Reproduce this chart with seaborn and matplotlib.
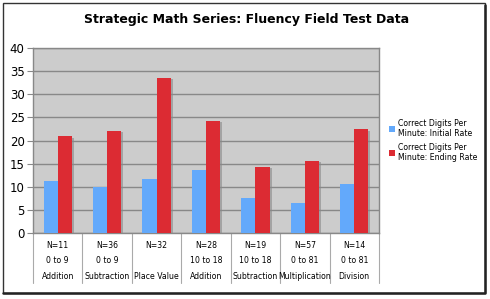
import matplotlib
matplotlib.use('Agg')
import matplotlib.pyplot as plt
import matplotlib.patheffects as pe
from matplotlib.patches import Rectangle, Patch
from matplotlib.lines import Line2D
import seaborn as sns
import pandas as pd

# data
skills = ['Addition', 'Subtraction', 'Place Value', 'Addition', 'Subtraction', 'Multiplication', 'Division']
ranges = ['0 to 9', '0 to 9', '', '10 to 18', '10 to 18', '0 to 81', '0 to 81']
n_students = [11, 36, 32, 28, 19, 57, 14]
initial_rate = [11.3, 9.9, 11.7, 13.7, 7.6, 6.5, 10.6]
ending_rate = [20.9, 22.1, 33.6, 24.2, 14.3, 15.6, 22.4]
series_names = ['Correct Digits Per\nMinute: Initial Rate', 'Correct Digits Per\nMinute: Ending Rate']
colors = ['#63a9fb', '#dc2b33']

groups = ['g%d' % i for i in range(len(skills))]
df = pd.DataFrame({
  'group': groups * 2,
  'series': [series_names[0]] * len(groups) + [series_names[1]] * len(groups),
  'value': initial_rate + ending_rate,
})

sns.set_style('white')
plt.rcParams['font.family'] = ['DejaVu Sans']
plt.rcParams['text.color'] = 'black'
plt.rcParams['ytick.labelcolor'] = 'black'

fig = plt.figure(figsize=(4.9, 2.99), dpi=100)
ax = fig.add_axes([33 / 490, 66 / 299, 346 / 490, 185 / 299])
ax.set_facecolor('#cccccc')

sns.barplot(data=df, x='group', y='value', hue='series', order=groups,
            hue_order=series_names, palette=colors, width=0.57, gap=0,
            saturation=1, linewidth=0, legend=False, ax=ax, zorder=3)
for bar in ax.patches:
  bar.set_path_effects([pe.SimplePatchShadow(offset=(1.5, -1), shadow_rgbFace='#888888', alpha=0.6), pe.Normal()])

ax.set_ylim(0, 40)
ax.set_xlim(-0.5, len(groups) - 0.5)
ax.set_yticks(range(0, 41, 5))
ax.yaxis.grid(True, color='#888888', linewidth=1, zorder=0)
ax.set_axisbelow(True)
ax.tick_params(axis='y', left=True, length=4, width=0.8, color='#888888',
               labelsize=8.5, labelcolor='black', pad=2)
ax.set_xticks([])
ax.set_xlabel('')
ax.set_ylabel('')
for s in ax.spines.values():
  s.set_color('#888888')
  s.set_linewidth(1)

# category table under the axis
trans = ax.get_xaxis_transform()
for i in range(len(groups) + 1):
  ax.add_line(Line2D([i - 0.5, i - 0.5], [0, -0.27], transform=trans, color='#aaaaaa',
                     linewidth=0.8, clip_on=False))
for i in range(len(groups)):
  ax.text(i, -0.065, 'N=%d' % n_students[i], transform=trans, ha='center', va='center', fontsize=5.6)
  ax.text(i, -0.15, ranges[i], transform=trans, ha='center', va='center', fontsize=5.6)
  ax.text(i, -0.235, skills[i], transform=trans, ha='center', va='center', fontsize=5.6)

fig.suptitle('Strategic Math Series: Fluency Field Test Data', x=0.503, y=0.955,
             fontsize=9, fontweight='bold', color='black')

handles = [Patch(facecolor=c, edgecolor='none') for c in colors]
fig.legend(handles, series_names, loc='center left', bbox_to_anchor=(386 / 490, 0.53),
           frameon=False, fontsize=5.6, handlelength=0.8, handleheight=0.8,
           handletextpad=0.3, labelspacing=0.6, borderaxespad=0)

# outer frame of the chart
fig.patches.append(Rectangle((3 / 490, 6 / 299), 482 / 490, 290 / 299, transform=fig.transFigure,
                             fill=False, edgecolor='#333333', linewidth=1))
fig.lines.append(Line2D([485 / 490, 485 / 490, 3 / 490], [294 / 299, 6 / 299, 6 / 299],
                        transform=fig.transFigure, color='#222222', linewidth=1.8))

fig.savefig('out.png', dpi=100)
